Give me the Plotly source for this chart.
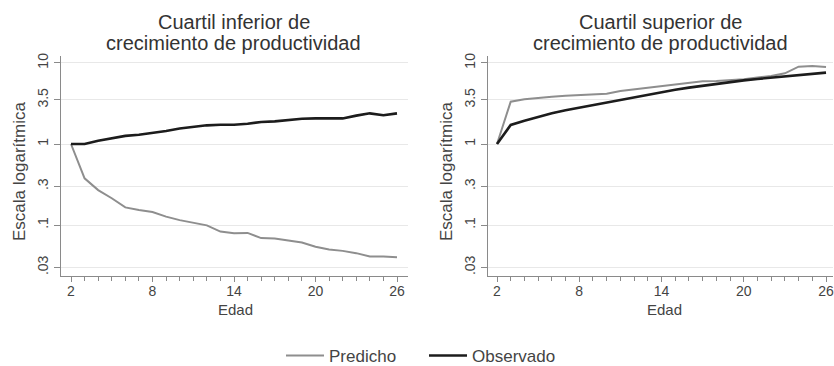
import plotly.graph_objects as go
import math

ages = list(range(2, 27))
left_pred = [1.0, 0.377, 0.27, 0.214, 0.165, 0.153, 0.145, 0.127, 0.115, 0.107, 0.099, 0.083, 0.079,
             0.080, 0.069, 0.068, 0.064, 0.061, 0.054, 0.050, 0.048, 0.045, 0.041, 0.041, 0.040]
left_obs = [1.00, 1.00, 1.10, 1.19, 1.26, 1.30, 1.36, 1.45, 1.55, 1.64, 1.70, 1.73, 1.73,
            1.78, 1.87, 1.90, 1.98, 2.05, 2.07, 2.07, 2.07, 2.24, 2.39, 2.26, 2.39]
right_pred = [1.0, 3.33, 3.56, 3.73, 3.84, 3.95, 4.03, 4.14, 4.17, 4.51, 4.73, 4.96, 5.2,
              5.46, 5.71, 5.94, 6.0, 6.1, 6.3, 6.6, 6.9, 7.45, 9.0, 9.2, 8.9]
right_obs = [1.0, 1.72, 1.94, 2.17, 2.39, 2.61, 2.81, 3.03, 3.24, 3.49, 3.8, 4.1, 4.38,
             4.68, 4.96, 5.25, 5.55, 5.83, 6.1, 6.35, 6.6, 6.8, 7.05, 7.3, 7.6]

titles_left = ["Cuartil inferior de", "crecimiento de productividad"]
titles_right = ["Cuartil superior de", "crecimiento de productividad"]
ytick_vals = [0.03, 0.1, 0.3, 1, 3.5, 10]
ytick_text = [".03", ".1", ".3", "1", "3.5", "10"]
xtick_vals = [2, 8, 14, 20, 26]
series_names = ["Predicho", "Observado"]

FONT = "Liberation Sans, Arial, sans-serif"
W, H = 834, 366
PRED_C = "#8e8e8e"
OBS_C = "#1c1c1c"

fig = go.Figure()
for i, (pred, obs) in enumerate([(left_pred, left_obs), (right_pred, right_obs)]):
    xa = "x" if i == 0 else "x2"
    ya = "y" if i == 0 else "y2"
    fig.add_trace(go.Scatter(x=ages, y=pred, mode="lines", name=series_names[0],
                             line=dict(color=PRED_C, width=2), xaxis=xa, yaxis=ya,
                             showlegend=(i == 0)))
    fig.add_trace(go.Scatter(x=ages, y=obs, mode="lines", name=series_names[1],
                             line=dict(color=OBS_C, width=2.6), xaxis=xa, yaxis=ya,
                             showlegend=(i == 0)))

yr = [math.log10(0.0235), 1.086]
ydom = [(H - 276) / H, (H - 56) / H]

def xaxis(dom, rng, anchor):
    return dict(domain=dom, range=rng, tickvals=xtick_vals, ticks="outside", ticklen=5,
                tickcolor="#8a8a8a", showline=True, linecolor="#8a8a8a", linewidth=1,
                showgrid=False, zeroline=False, anchor=anchor, ticklabeloverflow="allow",
                ticklabelstandoff=-3,
                tickfont=dict(family=FONT, size=14, color="#444"),
                minor=dict(dtick=1, tick0=2, ticks="outside", ticklen=4, tickcolor="#8a8a8a",
                           showgrid=False))

def yaxis(anchor):
    return dict(domain=ydom, type="log", range=yr, tickvals=ytick_vals, ticktext=ytick_text,
                ticks="outside", ticklen=6, tickcolor="#8a8a8a", showline=True,
                linecolor="#8a8a8a", linewidth=1, showgrid=True, gridcolor="#e8e8e8",
                gridwidth=1, zeroline=False, tickangle=-90, anchor=anchor,
                tickfont=dict(family=FONT, size=14, color="#444"))

fig.update_layout(
    width=W, height=H,
    margin=dict(l=0, r=0, t=0, b=0, autoexpand=False),
    paper_bgcolor="white", plot_bgcolor="white",
    xaxis=xaxis([61 / W, 408 / W], [1.264, 26.81], "y"),
    yaxis=yaxis("x"),
    xaxis2=xaxis([488 / W, 833 / W], [1.343, 26.51], "y2"),
    yaxis2=yaxis("x2"),
    showlegend=True,
    legend=dict(orientation="h", x=281 / W, xanchor="left", y=(H - 356) / H, yanchor="middle",
                font=dict(family=FONT, size=17, color="#444"), itemwidth=38,
                entrywidth=90, bgcolor="rgba(0,0,0,0)"),
)

ann = []
for cx, lines in [(234, titles_left), (660, titles_right)]:
    for j, t in enumerate(lines):
        ann.append(dict(text=t, x=cx / W, y=(H - (22 + 21 * j)) / H, xref="paper", yref="paper",
                        showarrow=False, xanchor="center", yanchor="middle",
                        font=dict(family=FONT, size=20, color="#333")))
for cx in [19, 446]:
    ann.append(dict(text="Escala logarítmica", x=cx / W, y=(H - 172) / H, xref="paper", yref="paper",
                    showarrow=False, textangle=-90, xanchor="center", yanchor="middle",
                    font=dict(family=FONT, size=17, color="#444")))
for cx in [235, 664]:
    ann.append(dict(text="Edad", x=cx / W, y=(H - 309) / H, xref="paper", yref="paper",
                    showarrow=False, xanchor="center", yanchor="middle",
                    font=dict(family=FONT, size=15, color="#444")))
fig.update_layout(annotations=ann)

fig.write_html("out.html", config={"displayModeBar": False},
               post_script="document.body.style.margin='0px';")
